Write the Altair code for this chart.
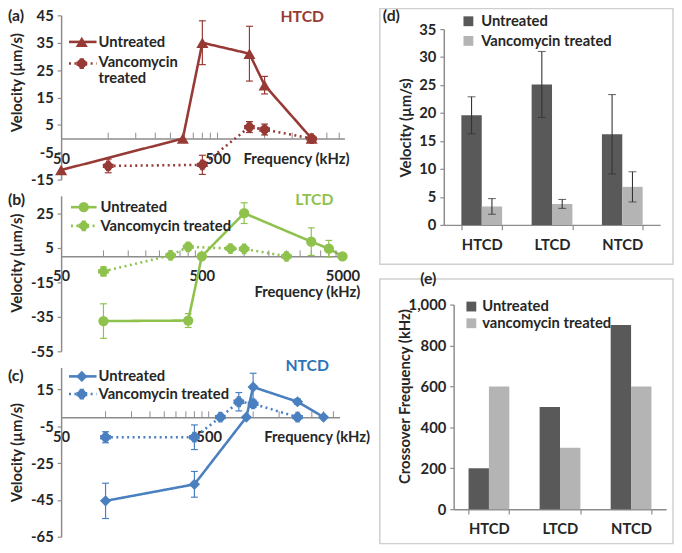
import altair as alt
import pandas as pd

FONT = "Lato"
TXT = "#262626"
AX = "#8c8c8c"

SERIES = ["Untreated", "Vancomycin treated"]
PANEL_NAMES = ["HTCD", "LTCD", "NTCD"]
PANEL_TAGS = ["(a)", "(b)", "(c)", "(d)", "(e)"]

a_freq_u = [50, 300, 400, 800, 1000, 2000]
a_vel_u = [-11.5, 0, 35, 31, 19.5, 0]
a_err_u = [0, 0, 8, 10, 3.2, 0]
a_freq_v = [100, 400, 800, 1000, 2000]
a_vel_v = [-10, -9.6, 4.2, 3.3, 0]
a_err_v = [2.5, 3.5, 2, 2, 1]
a_yticks = [-15, -5, 5, 15, 25, 35, 45]

b_freq_u = [100, 400, 500, 1000, 3000, 4000, 5000]
b_vel_u = [-37.5, -37.2, 0, 25, 8.5, 4.4, 0]
b_err_u = [10, 4, 0, 6, 8, 4.8, 0]
b_freq_v = [100, 300, 400, 800, 1000, 2000]
b_vel_v = [-8.7, 0.5, 5.5, 4.5, 4.3, 0]
b_err_v = [2.5, 1, 2, 1.5, 1.5, 1]
b_yticks = [-55, -35, -15, 5, 25]

c_freq_u = [100, 400, 900, 1000, 2000, 3000]
c_vel_u = [-45.5, -36.5, 0, 16.4, 8.4, 0]
c_err_u = [9.6, 7, 0, 7.5, 1.5, 0]
c_freq_v = [100, 400, 600, 800, 1000, 2000]
c_vel_v = [-10.9, -10.9, 0, 8.4, 7.3, 0]
c_err_v = [3, 6.7, 1, 5, 2, 1]
c_yticks = [-65, -45, -25, -5, 15]

freq_labels = [50, 500, 5000]
freq_minor = [100, 150, 200, 250, 300, 350, 400, 450, 500,
              1000, 1500, 2000, 2500, 3000, 3500, 4000, 4500]

CATS = ["HTCD", "LTCD", "NTCD"]
d_untreated = [19.6, 25.1, 16.2]
d_untreated_err = [3.3, 5.9, 7.1]
d_vanco = [3.3, 3.75, 6.8]
d_vanco_err = [1.4, 0.8, 2.7]
d_series = ["Untreated", "Vancomycin treated"]
d_yticks = [0, 5, 10, 15, 20, 25, 30, 35]

e_untreated = [200, 500, 900]
e_vanco = [600, 300, 600]
e_series = ["Untreated", "vancomycin treated"]
e_yticks = [0, 200, 400, 600, 800, 1000]

RED = "#973a36"
GREEN = "#8fc24d"
BLUE = "#4a7fc0"
BLUE_T = "#2e75b6"
DARK = "#595959"
LIGHT = "#b4b4b4"
KEYS = ["u", "v"]


def text_layer(txt, x, y, color=TXT, size=15, align="left", baseline="middle"):
    return alt.Chart(pd.DataFrame({"t": [txt]})).mark_text(
        font=FONT, fontSize=size, fontWeight="bold", color=color,
        align=align, baseline=baseline
    ).encode(x=alt.value(x), y=alt.value(y), text="t:N")


def line_panel(g, fu, vu, eu, fv, vv, ev, yticks, color, title_color,
               name, tag, shape_u, size_u, extent=None):
    rows = []
    for s, fs, vs, es in [(SERIES[0], fu, vu, eu), (SERIES[1], fv, vv, ev)]:
        for f, v, e in zip(fs, vs, es):
            rows.append(dict(series=s, freq=f, vel=v, lo=v - e, hi=v + e, err=e))
    df = pd.DataFrame(rows)
    W, H = g["W"], g["H"]
    xdom, ydom = g["xdom"], g["ydom"]
    zero = H * (ydom[1] - 0) / (ydom[1] - ydom[0])
    xs = alt.Scale(type="log", domain=xdom, nice=False)
    ys = alt.Scale(domain=ydom, nice=False, zero=False)

    xaxis = alt.Axis(values=[v for v in freq_labels if v <= xdom[1]],
                     labelExpr="'' + datum.value",
                     title="Frequency (kHz)", offset=-(H - zero), ticks=False,
                     labelPadding=20, labelBaseline="middle", labelFlush=False,
                     labelOverlap=False, titleX=g["ftx"], titleY=g["fty"],
                     titleAlign="left", titleBaseline="middle", grid=False)
    yaxis = alt.Axis(values=yticks, labelExpr="'' + datum.value",
                     title="Velocity (µm/s)", tickSize=4,
                     labelPadding=4, titleX=-45, titleY=g["vty"],
                     titleAlign="center", titleBaseline="middle", titleAngle=270,
                     grid=False)

    def X(f="freq"):
        return alt.X(f + ":Q", scale=xs, axis=xaxis)

    def Y(f="vel"):
        return alt.Y(f + ":Q", scale=ys, axis=yaxis)

    layers = []
    if extent:
        layers.append(alt.Chart(pd.DataFrame({"f": [0]})).mark_rect(opacity=0).encode(
            x=alt.value(extent[0]), x2=alt.value(extent[1]), y=alt.value(extent[2]), y2=alt.value(extent[3])))

    base = alt.Chart(df)
    lines = base.mark_line(strokeWidth=2.6, color=color).encode(
        X(), Y(),
        strokeDash=alt.StrokeDash("series:N", scale=alt.Scale(domain=SERIES, range=[[1, 0], [2, 3.5]]), legend=None),
    )
    minor = pd.DataFrame({"freq": [f for f in freq_minor if f <= xdom[1]]})
    minor["z"] = 0
    mticks = alt.Chart(minor).mark_rule(color=AX, strokeWidth=1, yOffset=-6, y2Offset=0).encode(
        X(), Y("z"), alt.Y2("z"))
    eb = base.transform_filter("datum.err > 0")
    errs = eb.mark_rule(color=color, strokeWidth=1.2).encode(X(), Y("lo"), alt.Y2("hi"))
    cap_lo = eb.mark_rule(color=color, strokeWidth=1.2, xOffset=-3.5, x2Offset=3.5).encode(
        X(), alt.X2("freq"), Y("lo"))
    cap_hi = eb.mark_rule(color=color, strokeWidth=1.2, xOffset=-3.5, x2Offset=3.5).encode(
        X(), alt.X2("freq"), Y("hi"))
    pu = base.transform_filter(alt.datum.series == SERIES[0]).mark_point(
        shape=shape_u, filled=True, size=size_u, color=color, opacity=1).encode(X(), Y())
    pv1 = base.transform_filter(alt.datum.series == SERIES[1]).mark_point(
        shape="circle", filled=True, size=85, color=color, opacity=1).encode(X(), Y())
    pv2 = base.transform_filter(alt.datum.series == SERIES[1]).mark_point(
        shape="cross", filled=True, size=120, color=color, opacity=1).encode(X(), Y())
    layers += [lines, mticks, errs, cap_lo, cap_hi, pu, pv1, pv2]

    lg = g["legend"]
    for i, s in enumerate(SERIES):
        ly = lg["rows"][i]
        ldf = pd.DataFrame({"label": [s]})
        rule_kw = dict(color=color, strokeWidth=2.6)
        if i == 1:
            rule_kw["strokeDash"] = [2, 3.5]
        layers.append(alt.Chart(ldf).mark_rule(**rule_kw).encode(
            x=alt.value(lg["x0"]), x2=alt.value(lg["x1"]), y=alt.value(ly)))
        if i == 0:
            layers.append(alt.Chart(ldf).mark_point(shape=shape_u, filled=True, size=size_u, color=color,
                                                    opacity=1).encode(x=alt.value(lg["mx"]), y=alt.value(ly)))
        else:
            for shp, sz in (("circle", 85), ("cross", 120)):
                layers.append(alt.Chart(ldf).mark_point(shape=shp, filled=True, size=sz, color=color,
                                                        opacity=1).encode(x=alt.value(lg["mx"]), y=alt.value(ly)))
        if i == 1 and lg.get("wrap"):
            layers.append(alt.Chart(ldf).mark_text(font=FONT, fontSize=15, fontWeight="bold", color=TXT,
                                                   align="left", baseline="top", lineBreak=" ",
                                                   lineHeight=17).encode(
                x=alt.value(lg["tx"]), y=alt.value(ly - 9), text="label:N"))
        else:
            layers.append(alt.Chart(ldf).mark_text(font=FONT, fontSize=15, fontWeight="bold", color=TXT,
                                                   align="left", baseline="middle").encode(
                x=alt.value(lg["tx"]), y=alt.value(ly), text="label:N"))
    layers.append(text_layer(name, g["nx"], g["ny"], color=title_color, size=16))
    layers.append(text_layer(tag, -54, g["ty"], size=16))

    return alt.layer(*layers).properties(width=W, height=H)


GA = dict(W=288, H=167, xdom=[50, 3240], ydom=[-15, 45],
          ftx=185, fty=20, vty=68,
          legend=dict(rows=[27, 49], x0=8, x1=36, mx=21, tx=38, wrap=True),
          nx=223, ny=2, ty=1)
GB = dict(W=286, H=158, xdom=[50, 5000], ydom=[-55, 35],
          ftx=196, fty=36, vty=68,
          legend=dict(rows=[11.5, 30.5], x0=10, x1=36, mx=23, tx=40),
          nx=238, ny=4.5, ty=4.5)
GC = dict(W=283, H=172, xdom=[50, 3850], ydom=[-65, 27],
          ftx=206, fty=20, vty=86,
          legend=dict(rows=[9, 27], x0=8, x1=36, mx=21, tx=38),
          nx=228, ny=-1, ty=9)

pa = line_panel(GA, a_freq_u, a_vel_u, a_err_u, a_freq_v, a_vel_v, a_err_v, a_yticks,
                RED, RED, PANEL_NAMES[0], PANEL_TAGS[0], "triangle-up", 150,
                extent=(-54, 312, -8, 0))
pb = line_panel(GB, b_freq_u, b_vel_u, b_err_u, b_freq_v, b_vel_v, b_err_v, b_yticks,
                GREEN, GREEN, PANEL_NAMES[1], PANEL_TAGS[1], "circle", 110)
pc = line_panel(GC, c_freq_u, c_vel_u, c_err_u, c_freq_v, c_vel_v, c_err_v, c_yticks,
                BLUE, BLUE_T, PANEL_NAMES[2], PANEL_TAGS[2], "diamond", 130)


def bar_panel(W, H, pin, pout, ydom, yticks, vals_u, vals_v, err_u, err_v,
              labels, ytitle, vtx, vty, leg, tag, tagx, tagy, box):
    rows = []
    for c_i, c in enumerate(CATS):
        for k, s, vals, errs in [(KEYS[0], labels[0], vals_u, err_u), (KEYS[1], labels[1], vals_v, err_v)]:
            e = errs[c_i] if errs else 0
            rows.append(dict(cat=c, k=k, series=s, value=vals[c_i], lo=vals[c_i] - e, hi=vals[c_i] + e, err=e))
    df = pd.DataFrame(rows)
    xs = alt.Scale(domain=CATS, paddingInner=pin, paddingOuter=pout)
    ys = alt.Scale(domain=ydom, nice=False)
    xo = alt.XOffset("k:N", scale=alt.Scale(domain=KEYS))
    xaxis = alt.Axis(title=None, labelAngle=0, tickBand="extent", tickSize=5,
                     labelPadding=15, labelBaseline="middle", grid=False)
    yaxis = alt.Axis(values=yticks, title=ytitle, tickSize=4, labelPadding=4,
                     titleX=vtx, titleY=vty, titleAlign="center", titleBaseline="middle",
                     titleAngle=270, grid=False)
    Xc = alt.X("cat:N", scale=xs, axis=xaxis, sort=CATS)

    def Y(f):
        return alt.Y(f + ":Q", scale=ys, axis=yaxis)

    frame = alt.Chart(pd.DataFrame({"f": [0]})).mark_rect(
        filled=False, stroke="#cfcfcf", strokeWidth=1.5).encode(
        x=alt.value(box[0]), x2=alt.value(box[1]), y=alt.value(box[2]), y2=alt.value(box[3]))
    base = alt.Chart(df)
    bars = base.mark_bar().encode(
        x=Xc, xOffset=xo, y=Y("value"),
        color=alt.Color("k:N", scale=alt.Scale(domain=KEYS, range=[DARK, LIGHT]), legend=None),
    )
    layers = [frame, bars]
    if err_u:
        errs = base.mark_rule(color="#333333", strokeWidth=1.1).encode(
            x=Xc, xOffset=xo, y=Y("lo"), y2=alt.Y2("hi"))
        cap_lo = base.mark_tick(orient="horizontal", size=8, thickness=1.1, color="#333333").encode(
            x=Xc, xOffset=xo, y=Y("lo"))
        cap_hi = base.mark_tick(orient="horizontal", size=8, thickness=1.1, color="#333333").encode(
            x=Xc, xOffset=xo, y=Y("hi"))
        layers += [errs, cap_lo, cap_hi]
    for i, (s, col) in enumerate(zip(labels, [DARK, LIGHT])):
        ldf = pd.DataFrame({"label": [s]})
        layers.append(alt.Chart(ldf).mark_point(shape="square", filled=True, size=100, color=col,
                                                opacity=1).encode(x=alt.value(leg["sx"]), y=alt.value(leg["rows"][i])))
        layers.append(alt.Chart(ldf).mark_text(font=FONT, fontSize=15, fontWeight="bold", color=TXT,
                                               align="left", baseline="middle").encode(
            x=alt.value(leg["tx"]), y=alt.value(leg["rows"][i]), text="label:N"))
    layers.append(text_layer(tag, tagx, tagy, size=16))
    return alt.layer(*layers).properties(width=W, height=H)


pd_ = bar_panel(220, 199, 0.42, 0.25, [0, 35], d_yticks,
                d_untreated, d_vanco, d_untreated_err, d_vanco_err, d_series,
                "Velocity (µm/s)", -39, 100, dict(sx=25, tx=38, rows=[-8, 12]),
                PANEL_TAGS[3], -62, -13, (-65, 233, -21, 239))
pe = bar_panel(216, 208, 0.43, 0.21, [0, 1000], e_yticks,
               e_untreated, e_vanco, None, None, e_series,
               "Crossover Frequency (kHz)", -50, 93, dict(sx=18, tx=29, rows=[2, 19]),
               PANEL_TAGS[4], -34, -26, (-75, 223, -26, 243))


def spacer(w, h):
    return alt.Chart(pd.DataFrame({"v": [0]})).mark_point(opacity=0).encode(
        x=alt.X("v:Q", axis=None), y=alt.Y("v:Q", axis=None)).properties(width=w, height=h)


left = alt.vconcat(pa, pb, pc, spacing=16.5, bounds="flush")
e_row = alt.hconcat(spacer(1, 208), pe, spacing=9, bounds="flush")
right_inner = alt.vconcat(pd_, e_row, spacing=81, bounds="flush")
right = alt.vconcat(spacer(220, 14), right_inner, spacing=0, bounds="flush")
chart = alt.hconcat(left, right, spacing=8, bounds="full").properties(
    padding={"left": 0, "top": -5, "right": 0, "bottom": 0})

chart = chart.configure(font=FONT, background="white").configure_view(strokeWidth=0).configure_axis(
    labelFont=FONT, labelFontSize=15, labelFontWeight="bold", labelColor=TXT,
    titleFont=FONT, titleFontSize=15, titleFontWeight="bold", titleColor=TXT,
    domainColor=AX, domainWidth=1.5, tickColor=AX, tickWidth=1.2, grid=False)

chart.save("out.html", embed_options={"renderer": "svg", "actions": False})
